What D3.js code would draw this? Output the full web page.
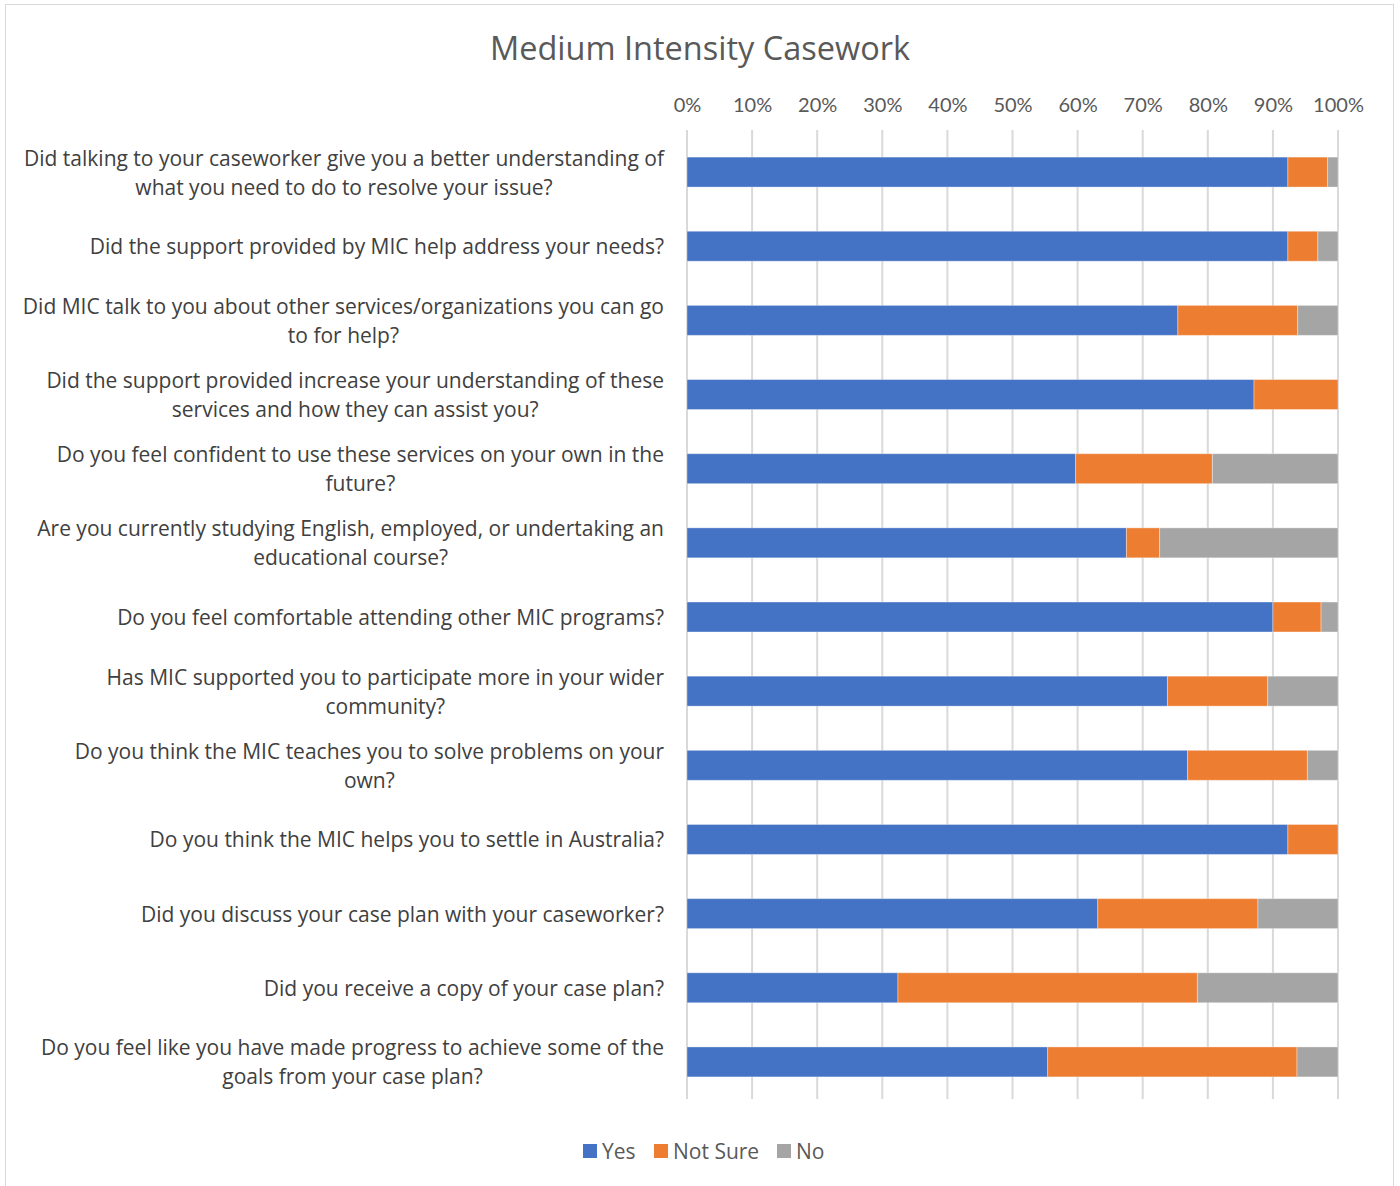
<!DOCTYPE html>
<html>
<head>
<meta charset="utf-8">
<script src="https://cdn.jsdelivr.net/npm/d3@7"></script>
<style>
  html, body { margin: 0; padding: 0; background: #fff; }
  svg { display: block; font-family: "Open Sans", Lato, sans-serif; }
</style>
</head>
<body>
<svg id="chart" width="1400" height="1186"></svg>
<script>
// Survey questions, each given as the lines it is printed on
const categories = [
  ["Did talking to your caseworker give you a better understanding of", "what you need to do to resolve your issue?"],
  ["Did the support provided by MIC help address your needs?"],
  ["Did MIC talk to you about other services/organizations you can go", "to for help?"],
  ["Did the support provided increase your understanding of these", "services and how they can assist you?"],
  ["Do you feel confident to use these services on your own in the", "future?"],
  ["Are you currently studying English, employed, or undertaking an", "educational course?"],
  ["Do you feel comfortable attending other MIC programs?"],
  ["Has MIC supported you to participate more in your wider", "community?"],
  ["Do you think the MIC teaches you to solve problems on your", "own?"],
  ["Do you think the MIC helps you to settle in Australia?"],
  ["Did you discuss your case plan with your caseworker?"],
  ["Did you receive a copy of your case plan?"],
  ["Do you feel like you have made progress to achieve some of the", "goals from your case plan?"]
];

// Share of responses (%) per question
const yesValues     = [92.3, 92.3, 75.4, 87.1, 59.7, 67.5, 90.0, 73.8, 76.9, 92.3, 63.1, 32.4, 55.4];
const notSureValues = [ 6.1,  4.6, 18.4, 12.9, 21.0,  5.1,  7.4, 15.4, 18.4,  7.7, 24.6, 46.0, 38.3];
const noValues      = [ 1.6,  3.1,  6.2,  0.0, 19.3, 27.4,  2.6, 10.8,  4.7,  0.0, 12.3, 21.6,  6.3];

const seriesNames = ["Yes", "Not Sure", "No"];
const seriesColors = ["#4472C4", "#ED7D31", "#A5A5A5"];
const tickValues = [0, 10, 20, 30, 40, 50, 60, 70, 80, 90, 100];

const svg = d3.select("#chart");
const W = 1400, H = 1186;

// chart frame
svg.append("rect")
  .attr("x", 5.5).attr("y", 4.5)
  .attr("width", 1388).attr("height", H + 10)
  .attr("fill", "#fff").attr("stroke", "#d9d9d9").attr("stroke-width", 1);

// title
svg.append("text")
  .attr("x", 700).attr("y", 47)
  .attr("text-anchor", "middle").attr("dominant-baseline", "central")
  .attr("fill", "#595959").style("font-size", "32.5px")
  .text("Medium Intensity Casework");

const plot = { left: 687, right: 1338, top: 135, bottom: 1099 };

const x = d3.scaleLinear().domain([0, 100]).range([plot.left, plot.right]);
const y = d3.scaleBand()
  .domain(d3.range(categories.length))
  .range([plot.top, plot.bottom])
  .paddingInner(0.596).paddingOuter(0.298);

// gridlines
svg.append("g")
  .selectAll("line")
  .data(tickValues)
  .join("line")
  .attr("x1", d => x(d)).attr("x2", d => x(d))
  .attr("y1", plot.top - 5).attr("y2", plot.bottom)
  .attr("stroke", "#d9d9d9").attr("stroke-width", 2);

// top axis labels
const axis = d3.axisTop(x).tickValues(tickValues).tickFormat(d => d + "%").tickSize(0).tickPadding(0);
const axisG = svg.append("g")
  .attr("transform", `translate(0, 104)`)
  .call(axis);
axisG.select(".domain").remove();
axisG.selectAll("text")
  .attr("fill", "#595959")
  .attr("dy", null)
  .attr("y", 0)
  .attr("dominant-baseline", "central")
  .style("font-size", "20px")
  .style("font-family", "Lato, 'Open Sans', sans-serif");

// stacked series
const rows = categories.map((c, i) => ({ i, Yes: yesValues[i], "Not Sure": notSureValues[i], No: noValues[i] }));
const stacked = d3.stack().keys(seriesNames)(rows);

svg.append("g")
  .selectAll("g")
  .data(stacked)
  .join("g")
  .attr("fill", (d, k) => seriesColors[k])
  .selectAll("rect")
  .data(d => d)
  .join("rect")
  .attr("x", d => x(d[0]))
  .attr("width", d => Math.max(0, x(d[1]) - x(d[0])))
  .attr("y", d => y(d.data.i))
  .attr("height", y.bandwidth())
  .attr("stroke", "#ffffff").attr("stroke-opacity", 0.35).attr("stroke-width", 1);

// category labels: block right-aligned to the axis, lines centred within the block
const lineH = 29;
const labelRight = 664;
const labels = svg.append("g");
categories.forEach((lines, i) => {
  const cy = y(i) + y.bandwidth() / 2;
  const t = labels.append("text")
    .attr("text-anchor", "middle")
    .attr("fill", "#404040")
    .style("font-size", "21px");
  const spans = lines.map((ln, j) => t.append("tspan")
    .attr("y", cy + (j - (lines.length - 1) / 2) * lineH)
    .attr("dominant-baseline", "central")
    .text(ln));
  const blockW = d3.max(spans, s => s.node().getComputedTextLength());
  spans.forEach(s => s.attr("x", labelRight - blockW / 2));
});

// legend
const legendX = [583, 654, 777];
const legend = svg.append("g");
seriesNames.forEach((name, k) => {
  legend.append("rect")
    .attr("x", legendX[k]).attr("y", 1144)
    .attr("width", 14).attr("height", 14)
    .attr("fill", seriesColors[k]);
  legend.append("text")
    .attr("x", legendX[k] + 19).attr("y", 1151)
    .attr("dominant-baseline", "central")
    .attr("fill", "#595959")
    .style("font-size", "21px")
    .text(name);
});
</script>
</body>
</html>
